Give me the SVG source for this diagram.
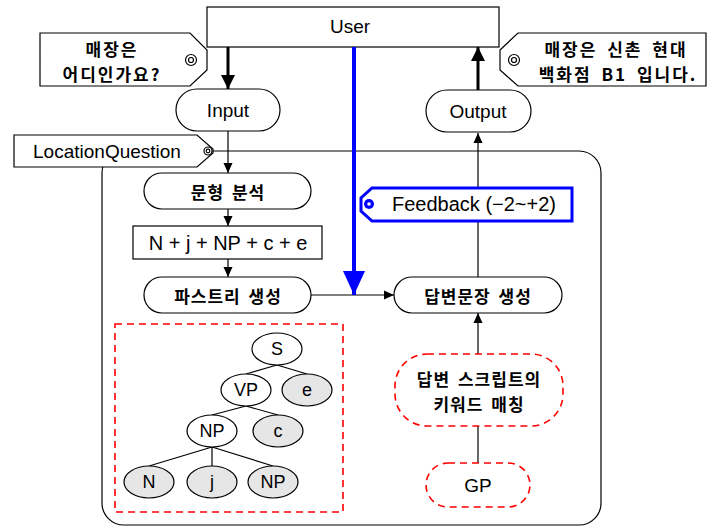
<svg xmlns="http://www.w3.org/2000/svg" width="722" height="527" viewBox="0 0 722 527">
<style>
.t{font-family:"Liberation Sans","Noto Sans CJK KR",sans-serif;font-size:19px;fill:#000;text-anchor:middle;dominant-baseline:central}
.s{font-family:"Liberation Sans",sans-serif;font-size:18px;fill:#000;text-anchor:middle;dominant-baseline:central}
.k{font-family:"Noto Sans CJK KR","Liberation Sans",sans-serif;font-size:17px;font-weight:bold;fill:#000;text-anchor:middle;dominant-baseline:central;letter-spacing:1px;word-spacing:3px}
.kc{font-family:"Noto Sans CJK KR","Liberation Sans",sans-serif;font-size:17px;font-weight:bold;fill:#000;text-anchor:middle;dominant-baseline:central;letter-spacing:2px;word-spacing:4px}
.n{fill:#fff;stroke:#000;stroke-width:1.2}
.g{fill:#e6e6e6;stroke:#000;stroke-width:1.2}
.d{fill:#fff;stroke:#ff0000;stroke-width:1.6;stroke-dasharray:7,5}
.c{fill:none;stroke:#000;stroke-width:1.2}
</style>
<defs>
<marker id="a" markerUnits="userSpaceOnUse" markerWidth="10" markerHeight="10" refX="10" refY="5" orient="auto"><path d="M0,0.5 L10,5 L0,9.5 z" fill="#000"/></marker>
<marker id="b" markerUnits="userSpaceOnUse" markerWidth="14" markerHeight="16" refX="14" refY="8" orient="auto"><path d="M0,1 L14,8 L0,15 z" fill="#000"/></marker>
<marker id="bl" markerUnits="userSpaceOnUse" markerWidth="24" markerHeight="24" refX="24" refY="12" orient="auto"><path d="M0,1 L24,12 L0,23 z" fill="#0000ff"/></marker>
</defs>

<g id="container">
<rect x="102" y="151" width="499" height="374" rx="22" fill="#fff" stroke="#000" stroke-width="1.2"/>
</g>

<g id="connectors">
<line x1="228" y1="47" x2="228" y2="89" stroke="#000" stroke-width="3" marker-end="url(#b)"/>
<line x1="228" y1="131" x2="228" y2="173" class="c" marker-end="url(#a)"/>
<line x1="228" y1="209" x2="228" y2="226" class="c" marker-end="url(#a)"/>
<line x1="228" y1="259" x2="228" y2="277" class="c" marker-end="url(#a)"/>
<line x1="311" y1="295" x2="394" y2="295" class="c" marker-end="url(#a)"/>
<line x1="478" y1="277" x2="478" y2="133" class="c" marker-end="url(#a)"/>
<line x1="478" y1="354" x2="478" y2="313" class="c" marker-end="url(#a)"/>
<line x1="478" y1="463" x2="478" y2="426" class="c"/>
<line x1="478" y1="90" x2="478" y2="47" stroke="#000" stroke-width="3" marker-end="url(#b)"/>
<line x1="196" y1="60" x2="207" y2="60" class="c"/>
<line x1="500" y1="60" x2="509" y2="60" class="c"/>
<line x1="277" y1="365" x2="246" y2="374" class="c"/>
<line x1="277" y1="365" x2="307" y2="374" class="c"/>
<line x1="246" y1="406" x2="212" y2="415" class="c"/>
<line x1="246" y1="406" x2="278" y2="415" class="c"/>
<line x1="212" y1="447" x2="149" y2="466" class="c"/>
<line x1="212" y1="447" x2="212" y2="466" class="c"/>
<line x1="212" y1="447" x2="273" y2="466" class="c"/>
</g>

<g id="user">
<rect x="207" y="7" width="292" height="40" class="n"/>
<text x="350" y="26" class="t">User</text>
</g>

<g id="callout-left">
<polygon points="40,33 190,33 207,50 207,70 190,86 40,86" class="n"/>
<circle cx="191" cy="60" r="5.5" class="n"/>
<circle cx="191" cy="60" r="2.5" class="n"/>
<text x="112" y="48" class="kc">매장은</text>
<text x="112" y="73" class="kc">어디인가요?</text>
</g>

<g id="callout-right">
<polygon points="518,33 706,33 706,86 518,86 500,70 500,50" class="n"/>
<circle cx="514" cy="60" r="5.5" class="n"/>
<circle cx="514" cy="60" r="2.5" class="n"/>
<text x="616" y="48" class="kc">매장은 신촌 현대</text>
<text x="618" y="73" class="kc">백화점 B1 입니다.</text>
</g>

<g id="input">
<rect x="176" y="89" width="104" height="42" rx="21" class="n"/>
<text x="228" y="110" class="t">Input</text>
</g>

<g id="output">
<rect x="426" y="90" width="105" height="42" rx="21" class="n"/>
<text x="478" y="111" class="t">Output</text>
</g>

<g id="location-question">
<polygon points="14,135 197,135 213,149 213,153 197,167 14,167" class="n"/>
<circle cx="208" cy="151" r="4" class="n"/>
<circle cx="208" cy="151" r="1.8" class="n"/>
<text x="107" y="151" class="t">LocationQuestion</text>
</g>

<g id="sentence-analysis">
<rect x="144" y="173" width="167" height="36" rx="18" class="n"/>
<text x="228" y="191" class="k">문형 분석</text>
</g>

<g id="pattern">
<rect x="133" y="226" width="189" height="33" class="n"/>
<text x="228" y="243" class="t" style="font-size:20px">N + j + NP + c + e</text>
</g>

<g id="parse-tree-gen">
<rect x="144" y="277" width="167" height="36" rx="18" class="n"/>
<text x="228" y="295" class="k">파스트리 생성</text>
</g>

<g id="answer-gen">
<rect x="394" y="277" width="168" height="36" rx="18" class="n"/>
<text x="478" y="295" class="k">답변문장 생성</text>
</g>

<g id="feedback-arrow">
<line x1="354" y1="47" x2="354" y2="295" stroke="#0000ff" stroke-width="4" marker-end="url(#bl)"/>
</g>

<g id="feedback">
<polygon points="372,188 572,188 572,221 372,221 361,211 361,198" fill="#fff" stroke="#0000ff" stroke-width="3"/>
<circle cx="369" cy="204" r="5" fill="#0000ff"/>
<circle cx="369" cy="204" r="1.8" fill="#fff"/>
<text x="474" y="204" class="t" style="font-size:20px">Feedback (−2~+2)</text>
</g>

<g id="tree-box">
<rect x="115" y="324" width="228" height="188" fill="none" stroke="#ff0000" stroke-width="1.6" stroke-dasharray="7,5"/>
</g>

<g id="tree-S"><ellipse cx="277" cy="349" rx="25" ry="16" class="n"/><text x="277" y="349" class="s">S</text></g>
<g id="tree-VP"><ellipse cx="246" cy="390" rx="25" ry="16" class="n"/><text x="246" y="390" class="s">VP</text></g>
<g id="tree-e"><ellipse cx="307" cy="390" rx="25" ry="16" class="g"/><text x="307" y="390" class="s">e</text></g>
<g id="tree-NP1"><ellipse cx="212" cy="431" rx="25" ry="16" class="n"/><text x="212" y="431" class="s">NP</text></g>
<g id="tree-c"><ellipse cx="278" cy="431" rx="25" ry="16" class="g"/><text x="278" y="431" class="s">c</text></g>
<g id="tree-N"><ellipse cx="149" cy="482" rx="25" ry="16" class="g"/><text x="149" y="482" class="s">N</text></g>
<g id="tree-j"><ellipse cx="212" cy="482" rx="25" ry="16" class="g"/><text x="212" y="482" class="s">j</text></g>
<g id="tree-NP2"><ellipse cx="273" cy="482" rx="25" ry="16" class="g"/><text x="273" y="482" class="s">NP</text></g>

<g id="keyword-match">
<rect x="395" y="354" width="168" height="72" rx="32" class="d"/>
<text x="479" y="378" class="k">답변 스크립트의</text>
<text x="479" y="403" class="k">키워드 매칭</text>
</g>

<g id="gp">
<rect x="426" y="463" width="104" height="44" rx="22" class="d"/>
<text x="478" y="485" class="t">GP</text>
</g>
</svg>
